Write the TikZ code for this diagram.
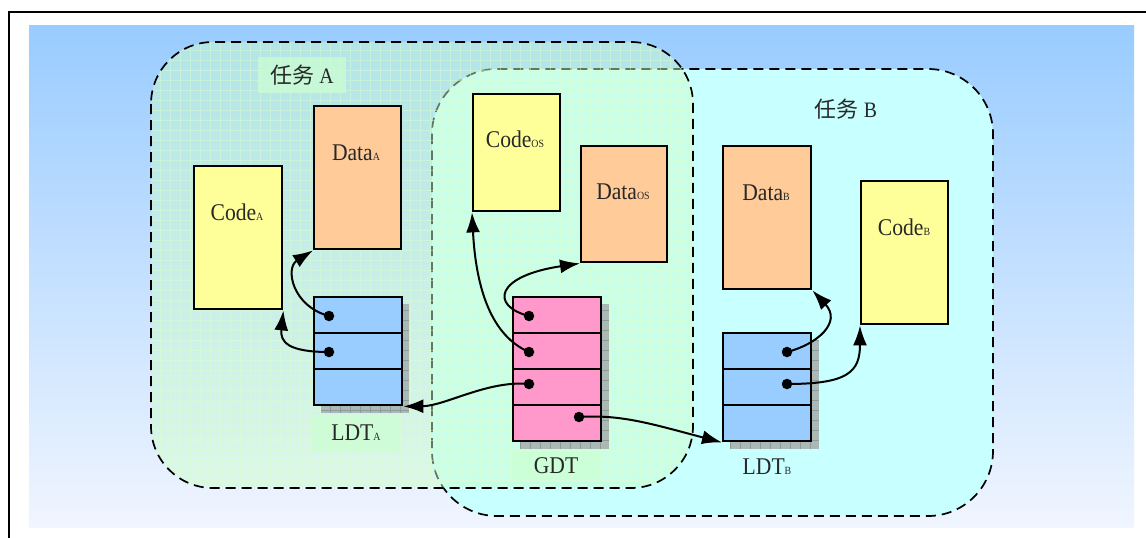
\documentclass[tikz,border=0pt]{standalone}
\usepackage{fontspec}
\setmainfont{Liberation Serif}[FakeStretch=0.9]
\newfontfamily\cjk{Noto Sans CJK SC}
\usetikzlibrary{arrows.meta}
\definecolor{bgtop}{RGB}{153,204,255}
\definecolor{bgbot}{RGB}{240,245,255}
\definecolor{taskBc}{RGB}{200,255,255}
\definecolor{taskAc}{RGB}{204,255,210}
\definecolor{gridc}{RGB}{222,255,200}
\definecolor{codec}{RGB}{255,255,153}
\definecolor{datac}{RGB}{255,204,153}
\definecolor{ldtc}{RGB}{153,204,255}
\definecolor{gdtc}{RGB}{255,153,204}
\definecolor{shadowc}{RGB}{170,185,182}
\definecolor{shgrid}{RGB}{140,155,152}
\definecolor{textc}{RGB}{40,40,40}
\newcommand\sbs[1]{{\fontsize{11}{11}\selectfont #1}}
\tikzset{
  box/.style={draw=black, line width=2.4pt, inner sep=0pt, anchor=north west},
  codebox/.style={box, fill=codec, minimum width=88pt},
  databox/.style={box, fill=datac, minimum width=87pt},
  ldtrow/.style={box, fill=ldtc, minimum width=88pt, minimum height=36pt},
  gdtrow/.style={box, fill=gdtc, minimum width=88pt, minimum height=36pt},
  lbl/.style={font=\fontsize{24}{24}\selectfont, inner sep=0pt, text=textc},
  lblbg/.style={fill=taskAc, fill opacity=0.7, text opacity=1, inner sep=0pt, minimum width=88pt, text=textc},
  dot/.style={circle, fill=black, inner sep=0pt, minimum size=10.5pt},
  arr/.style={line width=2pt, -{Latex[length=20pt,width=14pt]}},
  region/.style={dash pattern=on 10pt off 6pt, line width=1.7pt},
}
\begin{document}
\begin{tikzpicture}[x=1pt,y=-1pt]
\useasboundingbox (0,0) rectangle (1146,538);
\clip (0,0) rectangle (1146,538);
% frame and background
\fill[white] (0,0) rectangle (1146,538);
\draw[line width=2.5pt] (9,12) rectangle (1170,570);
\shade[top color=bgtop, bottom color=bgbot] (29,25) rectangle (1134,527);
% task B region
\fill[taskBc, rounded corners=65pt] (432,69) rectangle (993,516);
\draw[region, rounded corners=65pt] (432,69) rectangle (993,516);
% task A region (semi-transparent)
\fill[taskAc, fill opacity=0.47, rounded corners=62pt] (151,42) rectangle (693,488);
\begin{scope}
  \clip[rounded corners=62pt] (151,42) rectangle (693,488);
  \draw[gridc, line width=1pt, opacity=0.45, step=10pt] (151,42) grid (693,488);
\end{scope}
\draw[region, rounded corners=62pt] (151,42) rectangle (693,488);
% labels of tasks
\node[lblbg, minimum height=36pt, font=\fontsize{22}{22}\selectfont] (taskAlbl) at (302,75) {{\cjk 任务}~A};
\node[inner sep=0pt, text=textc, font=\fontsize{22}{22}\selectfont] (taskBlbl) at (846,109) {{\cjk 任务}~B};
% code/data boxes
\node[codebox, minimum height=143pt] (codeA) at (193,165) {};
\node[databox, minimum height=143pt] (dataA) at (313,105) {};
\node[codebox, minimum height=117pt, minimum width=87pt] (codeOS) at (472,93) {};
\node[databox, minimum height=116pt, minimum width=86pt] (dataOS) at (580,145) {};
\node[databox, minimum height=143pt, minimum width=88pt] (dataB) at (722,145) {};
\node[codebox, minimum height=143pt, minimum width=87pt] (codeB) at (860,180) {};
\node[lbl, anchor=base] (codeAt) at (237,220) {Code\sbs{A}};
\node[lbl, anchor=base] (dataAt) at (356,160) {Data\sbs{A}};
\node[lbl, anchor=base] (codeOSt) at (515,147) {Code\sbs{OS}};
\node[lbl, anchor=base] (dataOSt) at (623,199) {Data\sbs{OS}};
\node[lbl, anchor=base] (dataBt) at (766,200) {Data\sbs{B}};
\node[lbl, anchor=base] (codeBt) at (904,235) {Code\sbs{B}};
% shadows
\foreach \sx/\sy/\ex/\ey in {321/304/409/413, 520/304/609/449, 730/340/819/449}{
  \fill[shadowc] (\sx,\sy) rectangle (\ex,\ey);
  \begin{scope}
    \clip (\sx,\sy) rectangle (\ex,\ey);
    \draw[shgrid, line width=0.6pt, step=10pt] (\sx,\sy) grid (\ex,\ey);
  \end{scope}
}
% LDT A
\node[ldtrow] (ldtA1) at (313,296) {};
\node[ldtrow] (ldtA2) at (313,332) {};
\node[ldtrow] (ldtA3) at (313,368) {};
% GDT
\node[gdtrow] (gdt1) at (512,296) {};
\node[gdtrow] (gdt2) at (512,332) {};
\node[gdtrow] (gdt3) at (512,368) {};
\node[gdtrow] (gdt4) at (512,404) {};
% LDT B
\node[ldtrow] (ldtB1) at (722,332) {};
\node[ldtrow] (ldtB2) at (722,368) {};
\node[ldtrow] (ldtB3) at (722,404) {};
% table labels
\node[lblbg, minimum height=37pt, font=\fontsize{24}{24}\selectfont] (ldtAt) at (356,433) {LDT\sbs{A}};
\node[lblbg, minimum height=28pt, font=\fontsize{24}{24}\selectfont] (gdtt) at (556,466) {GDT};
\node[lbl] (ldtBt) at (767,467) {LDT\sbs{B}};
% dots
\node[dot] (dA1) at (329,316) {};
\node[dot] (dA2) at (329,352) {};
\node[dot] (g1) at (529,316) {};
\node[dot] (g2) at (529,352) {};
\node[dot] (g3) at (529,384) {};
\node[dot] (g4) at (579,417) {};
\node[dot] (dB1) at (787,352) {};
\node[dot] (dB2) at (787,384) {};
% connectors
\draw[arr] (dA1.center) .. controls (292,306) and (285,268) .. (dataA.south west);
\draw[arr] (dA2.center) .. controls (288,352) and (280,342) .. (codeA.south east);
\draw[arr] (g1.center) .. controls (490,306) and (495,276) .. (dataOS.south west);
\draw[arr] (g2.center) .. controls (492,336) and (476,290) .. (codeOS.south west);
\draw[arr] (g3.center) .. controls (488,380) and (445,406) .. (ldtA3.south east);
\draw[arr] (g4.center) .. controls (622,414) and (655,425) .. (ldtB3.south west);
\draw[arr] (dB1.center) .. controls (818,344) and (842,322) .. (dataB.south east);
\draw[arr] (dB2.center) .. controls (848,384) and (860,372) .. (codeB.south west);
\end{tikzpicture}
\end{document}
